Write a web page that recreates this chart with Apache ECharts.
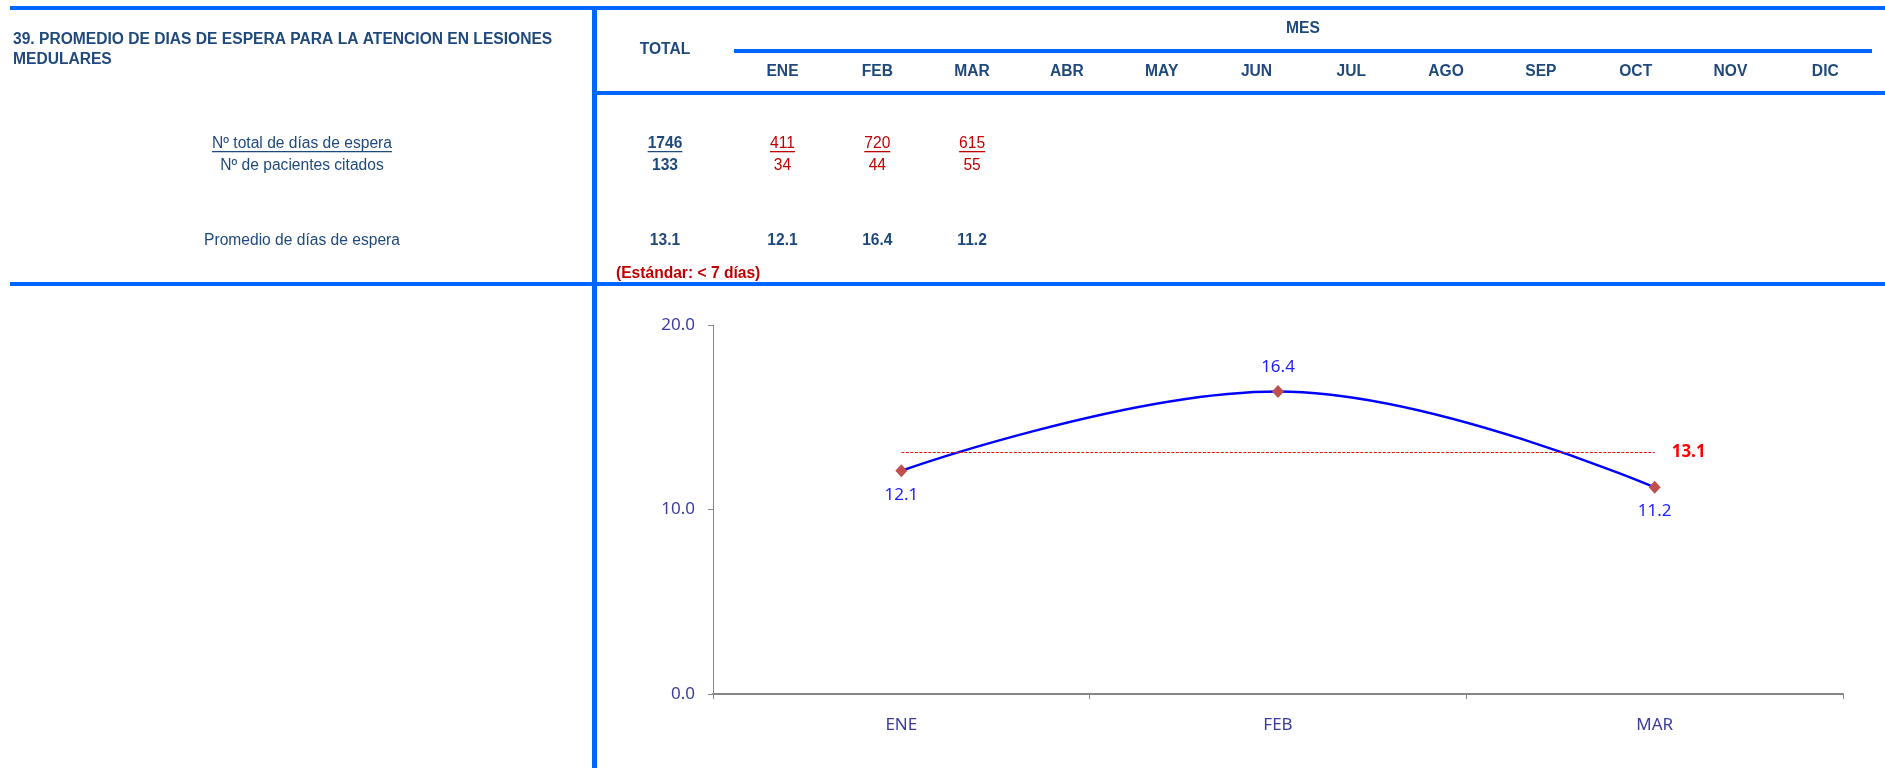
<!DOCTYPE html>
<html><head><meta charset="utf-8">
<script src="https://cdn.jsdelivr.net/npm/echarts@6/dist/echarts.min.js"></script>
<style>html,body{margin:0;padding:0;background:#fff}#c{width:1885px;height:768px}</style>
</head><body><div id="c"></div>
<script>
// ---- data ----
const titleLines = ['39. PROMEDIO DE DIAS DE ESPERA PARA LA ATENCION EN LESIONES', 'MEDULARES'];
const months = ['ENE','FEB','MAR','ABR','MAY','JUN','JUL','AGO','SEP','OCT','NOV','DIC'];
const rowLabels = ['Nº total de días de espera', 'Nº de pacientes citados', 'Promedio de días de espera'];
const totalDias = 1746;
const totalPacientes = 133;
const totalPromedio = 13.1;
const diasEspera = [411, 720, 615];
const pacientes = [34, 44, 55];
const promedio = [12.1, 16.4, 11.2];
const estandarText = '(Estándar: < 7 días)';
const chartMonths = months.slice(0, promedio.length);

// ---- styles ----
const BLUE_LINE = '#0066FF';
const NAVY = '#1F497D';
const RED = '#C00000';
const FONT = '"Liberation Sans", Arial, sans-serif';
const FS = 15.6;

const ctx = document.createElement('canvas').getContext('2d');
function textW(str, bold) {
  ctx.font = (bold ? 'bold ' : '') + FS + 'px ' + FONT;
  return ctx.measureText(str).width;
}

const g = [];
function rect(x, y, w, h) {
  g.push({type: 'rect', shape: {x, y, width: w, height: h}, style: {fill: BLUE_LINE}, silent: true});
}
function txt(str, x, y, opt) {
  opt = opt || {};
  const bold = !!opt.bold;
  const align = opt.align || 'center';
  const color = opt.color || NAVY;
  g.push({type: 'text', silent: true, style: {
    text: str, x, y, fill: color,
    font: (bold ? 'bold ' : '') + FS + 'px ' + FONT,
    align: align, textAlign: align, verticalAlign: 'middle', textVerticalAlign: 'middle'
  }});
  if (opt.underline) {
    const w = textW(str, bold);
    const x0 = align === 'center' ? x - w / 2 : (align === 'right' ? x - w : x);
    g.push({type: 'rect', silent: true, shape: {x: x0, y: y + 7, width: w, height: 1.3}, style: {fill: color}});
  }
}

// lines
rect(10, 6, 1875, 4);
rect(592, 6, 5, 762);
rect(734, 49, 1138, 4);
rect(592, 91, 1293, 4);
rect(10, 282, 1875, 4);

// header
txt(titleLines[0], 13, 40, {bold: true, align: 'left'});
txt(titleLines[1], 13, 60, {bold: true, align: 'left'});
txt('TOTAL', 665, 49.5, {bold: true});
txt('MES', 1303, 28.5, {bold: true});
const colX = i => 782.5 + 94.8 * i;
months.forEach((m, i) => txt(m, colX(i), 71.5, {bold: true}));

// rows
const rowY = [144, 166, 241];
txt(rowLabels[0], 302, rowY[0], {underline: true});
txt(rowLabels[1], 302, rowY[1]);
txt(rowLabels[2], 302, rowY[2]);
txt(String(totalDias), 665, rowY[0], {bold: true, underline: true});
txt(String(totalPacientes), 665, rowY[1], {bold: true});
txt(totalPromedio.toFixed(1), 665, rowY[2], {bold: true});
diasEspera.forEach((v, i) => txt(String(v), colX(i), rowY[0], {color: RED, underline: true}));
pacientes.forEach((v, i) => txt(String(v), colX(i), rowY[1], {color: RED}));
promedio.forEach((v, i) => txt(v.toFixed(1), colX(i), rowY[2], {bold: true}));
txt(estandarText, 616, 273.5, {bold: true, color: RED, align: 'left'});

const labelPos = ['bottom', 'top', 'bottom'];
const AXIS_COLOR = '#868686';
const AXIS_TEXT = '#3C3CA0';
const CFONT = '"Noto Sans", sans-serif';

const chart = echarts.init(document.getElementById('c'), null, {renderer: 'canvas'});
chart.setOption({
  animation: false,
  backgroundColor: '#fff',
  graphic: {elements: g},
  grid: {left: 713, right: 42, top: 325, bottom: 74},
  xAxis: {
    type: 'category', data: chartMonths, boundaryGap: true,
    axisLine: {lineStyle: {color: AXIS_COLOR, width: 2}},
    axisTick: {show: true, length: 5, interval: 0, lineStyle: {color: AXIS_COLOR, width: 1}},
    axisLabel: {color: AXIS_TEXT, fontFamily: CFONT, fontSize: 17, margin: 23},
    splitLine: {show: false}
  },
  yAxis: {
    type: 'value', min: 0, max: 20, interval: 10,
    axisLine: {show: true, lineStyle: {color: AXIS_COLOR, width: 1}},
    axisTick: {show: true, length: 5, lineStyle: {color: AXIS_COLOR}},
    axisLabel: {color: AXIS_TEXT, fontFamily: CFONT, fontSize: 17, margin: 18, formatter: v => v.toFixed(1)},
    splitLine: {show: false}
  },
  series: [{
    type: 'line',
    data: promedio.map((v, i) => ({value: v, label: {position: labelPos[i]}})),
    smooth: 0.4,
    symbol: 'diamond', symbolSize: [12, 13],
    lineStyle: {color: '#0000FF', width: 2.5},
    itemStyle: {color: '#C0504D'},
    label: {show: true, color: '#2020FF', fontFamily: CFONT, fontSize: 17, distance: 9,
            formatter: p => p.value.toFixed(1)},
    markLine: {
      silent: true, symbol: 'none', animation: false,
      lineStyle: {color: '#E01010', width: 1, type: [3, 1.5]},
      label: {show: true, position: 'end', distance: 17, color: '#FF0000', fontWeight: 'bold',
              fontFamily: CFONT, fontSize: 17, formatter: () => totalPromedio.toFixed(1)},
      data: [[{coord: [chartMonths[0], totalPromedio]}, {coord: [chartMonths[chartMonths.length - 1], totalPromedio]}]]
    }
  }]
});
</script></body></html>
